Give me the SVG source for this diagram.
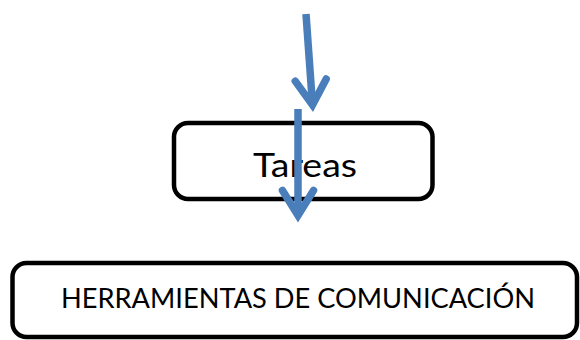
<svg xmlns="http://www.w3.org/2000/svg" width="580" height="340" viewBox="0 0 580 340">
  <style>
    .box { fill: #ffffff; stroke: #000000; stroke-width: 4.5; }
    .lbl { font-family: Lato, "Open Sans", "Liberation Sans", sans-serif; fill: #000000; }
    .arrow { fill: none; stroke: #4A7EBB; stroke-width: 7.5; stroke-linecap: butt; }
  </style>
  <defs>
    <marker id="head" markerUnits="userSpaceOnUse" markerWidth="60" markerHeight="60" refX="0" refY="0" orient="auto" overflow="visible">
      <path d="M -25 -15.5 L 0 0 L -25 15.5" fill="none" stroke="#4A7EBB" stroke-width="7.5" stroke-linecap="round" stroke-linejoin="miter" stroke-miterlimit="10"/>
    </marker>
  </defs>
  <rect width="580" height="340" fill="#ffffff"/>
  <g id="node-tareas">
    <rect class="box" x="174" y="123" width="258.5" height="76" rx="14" ry="14"/>
    <text class="lbl" x="253" y="177" font-size="33" textLength="104" lengthAdjust="spacingAndGlyphs">Tareas</text>
  </g>
  <g id="node-herramientas">
    <rect class="box" x="12.5" y="263" width="564.5" height="74" rx="14" ry="14"/>
    <text class="lbl" x="61" y="308" font-size="26" textLength="474" lengthAdjust="spacingAndGlyphs">HERRAMIENTAS DE COMUNICACIÓN</text>
  </g>
  <g id="connectors">
    <path class="arrow" d="M 306 14 L 312.5 105" marker-end="url(#head)"/>
    <path class="arrow" d="M 298 109 L 298 215.5" marker-end="url(#head)"/>
  </g>
</svg>
